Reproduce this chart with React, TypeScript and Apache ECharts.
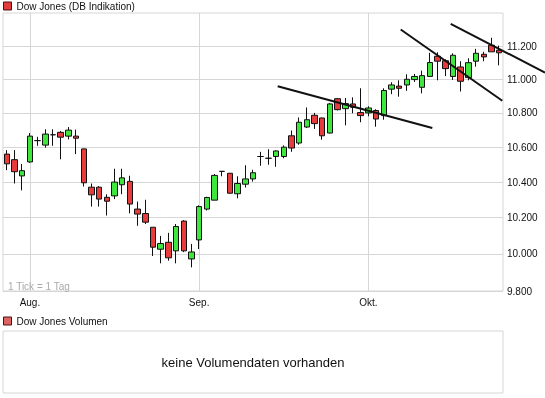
import React, { useEffect, useRef } from 'react';
import * as echarts from 'echarts';

// Trading days (DB Indikation, incl. US holiday 2010-09-06)
const dates = [
  '2010-07-28', '2010-07-29', '2010-07-30',
  '2010-08-02', '2010-08-03', '2010-08-04', '2010-08-05', '2010-08-06',
  '2010-08-09', '2010-08-10', '2010-08-11', '2010-08-12', '2010-08-13',
  '2010-08-16', '2010-08-17', '2010-08-18', '2010-08-19', '2010-08-20',
  '2010-08-23', '2010-08-24', '2010-08-25', '2010-08-26', '2010-08-27',
  '2010-08-30', '2010-08-31', '2010-09-01', '2010-09-02', '2010-09-03',
  '2010-09-06', '2010-09-07', '2010-09-08', '2010-09-09', '2010-09-10',
  '2010-09-13', '2010-09-14', '2010-09-15', '2010-09-16', '2010-09-17',
  '2010-09-20', '2010-09-21', '2010-09-22', '2010-09-23', '2010-09-24',
  '2010-09-27', '2010-09-28', '2010-09-29', '2010-09-30', '2010-10-01',
  '2010-10-04', '2010-10-05', '2010-10-06', '2010-10-07', '2010-10-08',
  '2010-10-11', '2010-10-12', '2010-10-13', '2010-10-14', '2010-10-15',
  '2010-10-18', '2010-10-19', '2010-10-20', '2010-10-21', '2010-10-22',
  '2010-10-25', '2010-10-26',
];

const openV = [
  10560, 10528, 10435,
  10515, 10638, 10612, 10672, 10686,
  10664, 10664, 10590, 10371, 10371,
  10314, 10322, 10385, 10404, 10248,
  10223, 10147, 10026, 10064, 10017,
  10181, 9973, 10077, 10248, 10298,
  10461, 10450, 10334, 10388, 10418,
  10546, 10536, 10546, 10546, 10666,
  10624, 10717, 10786, 10770, 10682,
  10884, 10825, 10853, 10802, 10800,
  10814, 10784, 10941, 10959, 10966,
  10998, 10952, 11017, 11139, 11112,
  11017, 11074, 11010, 11109, 11151,
  11206, 11176,
];
const highV = [
  10583, 10583, 10503,
  10682, 10660, 10704, 10704, 10694,
  10717, 10702, 10592, 10392, 10377,
  10331, 10476, 10476, 10436, 10290,
  10300, 10147, 10099, 10116, 10165,
  10186, 10055, 10269, 10317, 10446,
  10463, 10452, 10433, 10496, 10470,
  10573, 10588, 10582, 10610, 10697,
  10773, 10832, 10800, 10772, 10859,
  10888, 10888, 10892, 10946, 10839,
  10822, 10946, 10982, 10994, 11030,
  11032, 11052, 11160, 11163, 11121,
  11157, 11109, 11127, 11184, 11166,
  11252, 11204,
];
const lowV = [
  10468, 10392, 10353,
  10510, 10608, 10597, 10608, 10530,
  10645, 10560, 10375, 10262, 10262,
  10212, 10304, 10331, 10224, 10155,
  10165, 9989, 9949, 9963, 9949,
  10010, 9927, 10027, 10240, 10298,
  10433, 10334, 10308, 10369, 10403,
  10493, 10499, 10487, 10536, 10573,
  10614, 10711, 10706, 10643, 10680,
  10815, 10727, 10798, 10745, 10780,
  10719, 10760, 10911, 10896, 10931,
  10984, 10916, 11017, 10994, 11019,
  10996, 10927, 10994, 11076, 11109,
  11166, 11084,
];
const closeV = [
  10504, 10459, 10465,
  10664, 10638, 10676, 10672, 10658,
  10699, 10652, 10396, 10328, 10304,
  10292, 10400, 10424, 10276, 10220,
  10175, 10037, 10057, 9979, 10151,
  10017, 10011, 10262, 10313, 10438,
  10461, 10337, 10392, 10418, 10453,
  10546, 10536, 10578, 10600, 10595,
  10745, 10760, 10737, 10666, 10853,
  10819, 10855, 10833, 10784, 10829,
  10764, 10933, 10966, 10946, 11000,
  11017, 11022, 11101, 11109, 11064,
  11145, 10988, 11100, 11157, 11135,
  11166, 11160,
];

// price axis (logarithmic in the reference)
const yTicks = [9800, 10000, 10200, 10400, 10600, 10800, 11000, 11200];
const yMin = 9800;
const yMax = 11405;

// month labels on trading-day index
const monthTickIdx = [3, 25, 47];
const monthLabels = ['Aug.', 'Sep.', 'Okt.'];

// hand-drawn trend lines: [day index, price] pairs
const trend1 = [[35.21, 10958], [55.31, 10711]];
const trend2 = [[51.2, 11303], [64.41, 10872]];
const trend3 = [[57.7, 11338], [69.96, 11040]];

const FONT = "'Liberation Sans', Arial, sans-serif";
const GRID_COLOR = '#d6d6d6';

const fmt = (n: number) => {
  const s = String(Math.round(n));
  return s.length > 3 ? s.slice(0, s.length - 3) + '.' + s.slice(s.length - 3) : s;
};

export default function App() {
  const ref = useRef<HTMLDivElement>(null);
  useEffect(() => {
    if (!ref.current) return;
    const chart = echarts.init(ref.current, undefined, { renderer: 'svg' });
    const L = Math.log;
    const candles = dates.map((_, i) => [L(openV[i]), L(closeV[i]), L(lowV[i]), L(highV[i])]);
    chart.setOption({
      animation: false,
      grid: [
        { left: 3, right: 42, top: 13, bottom: 107, show: true, borderColor: GRID_COLOR, borderWidth: 1 },
        { left: 3, right: 42, top: 331, height: 62, show: true, borderColor: GRID_COLOR, borderWidth: 1 },
      ],
      legend: [
        {
          data: [{ name: 'Dow Jones (DB Indikation)', icon: 'rect', itemStyle: { color: '#e23c3c', borderColor: '#4a1010', borderWidth: 1 } }],
          left: 2, top: 0, padding: 1, itemWidth: 8, itemHeight: 8, selectedMode: false,
          textStyle: { fontSize: 10, color: '#111', fontFamily: FONT },
        },
        {
          data: [{ name: 'Dow Jones Volumen', icon: 'rect', itemStyle: { color: '#de6464', borderColor: '#4a1010', borderWidth: 1 } }],
          left: 2, top: 315, padding: 1, itemWidth: 8, itemHeight: 8, selectedMode: false,
          textStyle: { fontSize: 10, color: '#111', fontFamily: FONT },
        },
      ],
      xAxis: [
        { type: 'category', gridIndex: 0, data: dates, boundaryGap: true, show: false },
        {
          type: 'value', gridIndex: 0, min: -0.5, max: dates.length - 0.5, position: 'bottom',
          axisLine: { show: false },
          axisTick: { show: false, customValues: monthTickIdx },
          axisLabel: {
            customValues: monthTickIdx, margin: 6, fontSize: 10, color: '#111', fontFamily: FONT,
            formatter: (v: number) => monthLabels[monthTickIdx.indexOf(Math.round(v))] ?? '',
          },
          splitLine: { show: true, lineStyle: { color: GRID_COLOR, width: 1 } },
        },
        { type: 'category', gridIndex: 1, data: [], show: false },
      ],
      yAxis: [
        {
          type: 'value', gridIndex: 0, position: 'right', min: L(yMin), max: L(yMax),
          axisLine: { show: false },
          axisTick: { show: false, customValues: yTicks.map(L) },
          axisLabel: {
            customValues: yTicks.map(L), margin: 4, fontSize: 10, color: '#111', fontFamily: FONT,
            formatter: (v: number) => fmt(Math.exp(v)),
          },
          splitLine: { show: true, lineStyle: { color: GRID_COLOR, width: 1 } },
        },
        { type: 'value', gridIndex: 1, show: false },
      ],
      series: [
        {
          type: 'candlestick',
          name: 'Dow Jones (DB Indikation)',
          xAxisIndex: 0,
          yAxisIndex: 0,
          data: candles,
          barWidth: 6,
          itemStyle: {
            color: '#3ee63e', color0: '#e83c3c',
            borderColor: '#111', borderColor0: '#111', borderColorDoji: '#111',
            borderWidth: 1,
          },
        },
        { type: 'bar', name: 'Dow Jones Volumen', xAxisIndex: 2, yAxisIndex: 1, data: [], itemStyle: { color: '#de6464' } },
      ],
    });

    // trend lines positioned through the chart's own axes (may run past the plot edge)
    const toPx = (p: number[]) =>
      chart.convertToPixel({ xAxisIndex: 1, yAxisIndex: 0 } as any, [p[0], L(p[1])]) as number[];
    const trendGraphics = [trend1, trend2, trend3].map((t) => {
      const a = toPx(t[0]);
      const b = toPx(t[1]);
      return {
        type: 'line',
        z: 10,
        silent: true,
        shape: { x1: a[0], y1: a[1], x2: b[0], y2: b[1] },
        style: { stroke: '#111', lineWidth: 2 },
      };
    });

    chart.setOption({
      graphic: [
        { type: 'text', left: 8, top: 281, style: { text: '1 Tick = 1 Tag', fontSize: 10, fill: '#aaaaaa', fontFamily: FONT } },
        { type: 'text', x: 253, y: 362, style: { text: 'keine Volumendaten vorhanden', fontSize: 13, fill: '#111', fontFamily: FONT, align: 'center', verticalAlign: 'middle' } },
        ...trendGraphics,
      ],
    });
    return () => chart.dispose();
  }, []);
  return <div ref={ref} style={{ position: 'fixed', left: 0, top: 0, width: 545, height: 398 }} />;
}
